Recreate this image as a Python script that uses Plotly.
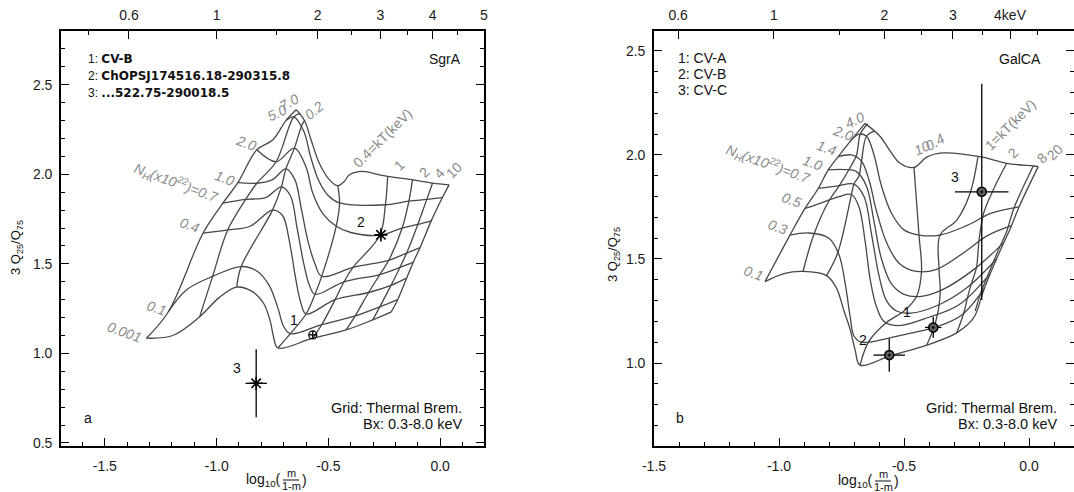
import math
import plotly.graph_objects as go

W, H = 1074, 492

# ---------------- Panel a (SgrA) ----------------
A_NH_LABELS = ["0.001", "0.1", "0.4", "0.7", "1.0", "2.0", "5.0", "7.0"]
A_NH_X = [
    [-1.314, -1.196, -1.076, -0.99, -0.91, -0.84, -0.79, -0.76, -0.745, -0.726, -0.57, -0.421, -0.302, -0.22],
    [-1.215, -1.134, -1.018, -0.89, -0.82, -0.765, -0.725, -0.70, -0.67, -0.53, -0.38, -0.27, -0.19],
    [-1.061, -0.95, -0.85, -0.75, -0.705, -0.675, -0.648, -0.625, -0.60, -0.47, -0.32, -0.22, -0.15],
    [-0.972, -0.87, -0.78, -0.71, -0.67, -0.64, -0.61, -0.585, -0.56, -0.43, -0.27, -0.18, -0.12],
    [-0.905, -0.82, -0.75, -0.69, -0.65, -0.62, -0.59, -0.56, -0.53, -0.39, -0.23, -0.15, -0.09],
    [-0.82, -0.734, -0.652, -0.60, -0.57, -0.525, -0.465, -0.40, -0.27, -0.17, -0.10, -0.04],
    [-0.69, -0.655, -0.61, -0.58, -0.545, -0.50, -0.45, -0.245, -0.14, -0.06, 0.01],
    [-0.644, -0.607, -0.577, -0.54, -0.496, -0.458, -0.429, -0.406, -0.347, -0.272, -0.235, -0.124, -0.034, 0.04],
]
A_NH_Y = [
    [1.085, 1.10, 1.204, 1.31, 1.37, 1.345, 1.28, 1.18, 1.09, 1.03, 1.085, 1.131, 1.187, 1.23],
    [1.234, 1.355, 1.43, 1.485, 1.46, 1.38, 1.25, 1.15, 1.11, 1.16, 1.21, 1.26, 1.30],
    [1.671, 1.69, 1.71, 1.80, 1.77, 1.63, 1.43, 1.29, 1.22, 1.30, 1.34, 1.38, 1.42],
    [1.839, 1.86, 1.87, 1.93, 1.88, 1.70, 1.50, 1.38, 1.33, 1.40, 1.44, 1.48, 1.51],
    [1.953, 1.95, 1.97, 2.03, 1.97, 1.80, 1.62, 1.50, 1.43, 1.48, 1.52, 1.56, 1.59],
    [2.137, 2.07, 2.146, 2.04, 1.895, 1.78, 1.71, 1.675, 1.66, 1.70, 1.72, 1.74],
    [2.30, 2.32, 2.24, 2.10, 1.97, 1.88, 1.84, 1.83, 1.85, 1.86, 1.87],
    [2.36, 2.30, 2.19, 2.06, 1.97, 1.936, 1.96, 1.997, 2.016, 1.997, 1.988, 1.969, 1.951, 1.941],
]
A_KT_LABELS = ["", "", "0.2", "0.4", "1", "2", "4", "10"]
A_KT_X = [
    [-1.314, -1.215, -1.061, -0.972, -0.905, -0.82, -0.748, -0.69, -0.644],
    [-1.076, -1.018, -0.95, -0.87, -0.82, -0.734, -0.655, -0.625],
    [-0.91, -0.89, -0.75, -0.71, -0.69, -0.652, -0.62, -0.607],
    [-0.726, -0.67, -0.60, -0.56, -0.53, -0.465, -0.45, -0.458],
    [-0.57, -0.53, -0.47, -0.43, -0.39, -0.27, -0.245, -0.235],
    [-0.421, -0.38, -0.32, -0.27, -0.23, -0.17, -0.14, -0.124],
    [-0.302, -0.27, -0.22, -0.18, -0.15, -0.10, -0.06, -0.034],
    [-0.22, -0.19, -0.15, -0.12, -0.09, -0.04, 0.01, 0.04],
]
A_KT_Y = [
    [1.085, 1.234, 1.671, 1.839, 1.953, 2.137, 2.193, 2.30, 2.36],
    [1.204, 1.43, 1.69, 1.86, 1.95, 2.07, 2.32, 2.34],
    [1.37, 1.485, 1.80, 1.93, 2.03, 2.146, 2.27, 2.30],
    [1.03, 1.11, 1.22, 1.33, 1.43, 1.71, 1.84, 1.936],
    [1.085, 1.16, 1.30, 1.40, 1.48, 1.66, 1.83, 1.988],
    [1.131, 1.21, 1.34, 1.44, 1.52, 1.70, 1.85, 1.969],
    [1.187, 1.26, 1.38, 1.48, 1.56, 1.72, 1.86, 1.951],
    [1.23, 1.30, 1.42, 1.51, 1.59, 1.74, 1.87, 1.941],
]
A_SRC = ["1", "2", "3"]
A_SRC_X = [-0.57, -0.265, -0.823]
A_SRC_Y = [1.103, 1.662, 0.833]
A_SRC_XERR = [0.0, 0.015, 0.048]
A_SRC_YERR = [0.0, 0.02, 0.19]
A_LEGEND = ["CV-B", "ChOPSJ174516.18-290315.8", "...522.75-290018.5"]

# ---------------- Panel b (GalCA) ----------------
B_NH_LABELS = ["0.1", "0.3", "0.5", "0.7", "1.0", "1.4", "2.0", "4.0"]
B_NH_X = [
    [-1.056, -0.98, -0.904, -0.81, -0.77, -0.74, -0.715, -0.695, -0.676, -0.556, -0.409, -0.289, -0.223, -0.196],
    [-0.956, -0.88, -0.80, -0.76, -0.735, -0.715, -0.70, -0.67, -0.56, -0.45, -0.38, -0.27, -0.178],
    [-0.896, -0.83, -0.76, -0.71, -0.68, -0.655, -0.635, -0.61, -0.58, -0.52, -0.40, -0.28, -0.155],
    [-0.843, -0.77, -0.70, -0.66, -0.63, -0.60, -0.57, -0.53, -0.47, -0.36, -0.25, -0.13],
    [-0.803, -0.74, -0.69, -0.65, -0.62, -0.59, -0.55, -0.50, -0.43, -0.35, -0.22, -0.10],
    [-0.763, -0.71, -0.67, -0.64, -0.61, -0.57, -0.52, -0.45, -0.37, -0.25, -0.17, -0.07],
    [-0.716, -0.68, -0.65, -0.62, -0.59, -0.55, -0.50, -0.44, -0.356, -0.25, -0.15, -0.04],
    [-0.656, -0.596, -0.556, -0.516, -0.46, -0.409, -0.344, -0.196, -0.089, 0.017, 0.037],
]
B_NH_Y = [
    [1.391, 1.43, 1.44, 1.42, 1.36, 1.25, 1.16, 1.06, 0.99, 1.034, 1.086, 1.145, 1.214, 1.295],
    [1.615, 1.625, 1.60, 1.52, 1.38, 1.22, 1.13, 1.10, 1.12, 1.15, 1.17, 1.23, 1.36],
    [1.743, 1.77, 1.80, 1.81, 1.75, 1.58, 1.40, 1.27, 1.20, 1.18, 1.22, 1.28, 1.43],
    [1.839, 1.85, 1.86, 1.80, 1.62, 1.42, 1.30, 1.25, 1.24, 1.28, 1.36, 1.50],
    [1.928, 1.93, 1.92, 1.85, 1.68, 1.50, 1.38, 1.33, 1.32, 1.35, 1.45, 1.58],
    [1.992, 2.0, 1.97, 1.88, 1.73, 1.58, 1.48, 1.44, 1.45, 1.54, 1.61, 1.66],
    [2.064, 2.10, 2.09, 2.0, 1.85, 1.72, 1.64, 1.615, 1.615, 1.66, 1.72, 1.75],
    [2.152, 2.09, 2.02, 1.96, 1.94, 1.99, 2.01, 1.992, 1.96, 1.947, 1.944],
]
B_KT_LABELS = ["", "", "", "0.4", "1", "2", "8", "20"]
B_KT_X = [
    [-1.056, -0.956, -0.896, -0.843, -0.803, -0.763, -0.716, -0.656],
    [-0.904, -0.86, -0.80, -0.76, -0.72, -0.69, -0.675, -0.645],
    [-0.81, -0.765, -0.71, -0.70, -0.68, -0.67, -0.65, -0.62],
    [-0.676, -0.64, -0.57, -0.50, -0.45, -0.43, -0.44, -0.46],
    [-0.409, -0.38, -0.37, -0.36, -0.355, -0.36, -0.356, -0.289, -0.236, -0.204],
    [-0.289, -0.26, -0.245, -0.23, -0.21, -0.20, -0.18, -0.14, -0.089],
    [-0.215, -0.195, -0.172, -0.148, -0.12, -0.09, -0.06, 0.017],
    [-0.196, -0.178, -0.155, -0.13, -0.10, -0.07, -0.04, 0.037],
]
B_KT_Y = [
    [1.391, 1.615, 1.743, 1.839, 1.928, 1.992, 2.064, 2.152],
    [1.44, 1.62, 1.78, 1.85, 1.93, 2.0, 2.10, 2.15],
    [1.42, 1.53, 1.81, 1.86, 1.90, 1.97, 2.09, 2.115],
    [0.99, 1.105, 1.195, 1.25, 1.32, 1.44, 1.615, 1.94],
    [1.086, 1.17, 1.215, 1.275, 1.35, 1.455, 1.615, 1.687, 1.815, 1.992],
    [1.145, 1.244, 1.32, 1.383, 1.46, 1.59, 1.725, 1.84, 1.96],
    [1.25, 1.33, 1.40, 1.47, 1.55, 1.63, 1.745, 1.947],
    [1.295, 1.36, 1.43, 1.50, 1.58, 1.66, 1.75, 1.944],
]
B_SRC = ["1", "2", "3"]
B_SRC_X = [-0.383, -0.559, -0.189]
B_SRC_Y = [1.171, 1.038, 1.823]
B_SRC_XERR = [0.033, 0.063, 0.107]
B_SRC_YERR = [0.05, 0.08, 0.52]
B_LEGEND = ["CV-A", "CV-B", "CV-C"]

# axis tick labels
X_TICKS = [-1.5, -1.0, -0.5, 0.0]
X_TICKTEXT = ["-1.5", "-1.0", "-0.5", "0.0"]
A_Y_TICKS = [0.5, 1.0, 1.5, 2.0, 2.5]
B_Y_TICKS = [1.0, 1.5, 2.0, 2.5]
Y_TICKTEXT = {0.5: "0.5", 1.0: "1.0", 1.5: "1.5", 2.0: "2.0", 2.5: "2.5"}
A_E_MAJOR = [0.6, 1, 2, 3, 4, 5]
A_E_TEXT = ["0.6", "1", "2", "3", "4", "5"]
B_E_MAJOR = [0.6, 1, 2, 3, 4]
B_E_TEXT = ["0.6", "1", "2", "3", "4keV"]
E_MINOR = [0.5, 1.5, 2.5, 3.5, 4.5]
E_MIN, E_MAX = 0.3, 8.0


def e2x(e):
    m = (e - E_MIN) / (E_MAX - E_MIN)
    return math.log10(m / (1 - m))


GRID = dict(color="#474747", width=1.3, shape="spline", smoothing=1.0)
LBL = "#8a8a8a"
FONT = "Liberation Sans"

fig = go.Figure()


def add_grid(xs_list, ys_list, xa, ya):
    for xs, ys in zip(xs_list, ys_list):
        fig.add_trace(go.Scatter(x=xs, y=ys, mode="lines", line=GRID,
                                 xaxis=xa, yaxis=ya, hoverinfo="skip", showlegend=False))


add_grid(A_NH_X, A_NH_Y, "x", "y")
add_grid(A_KT_X, A_KT_Y, "x", "y")
add_grid(B_NH_X, B_NH_Y, "x3", "y2")
add_grid(B_KT_X, B_KT_Y, "x3", "y2")

# dummy traces for top axes
fig.add_trace(go.Scatter(x=[None], y=[None], xaxis="x2", yaxis="y", showlegend=False, hoverinfo="skip"))
fig.add_trace(go.Scatter(x=[None], y=[None], xaxis="x4", yaxis="y2", showlegend=False, hoverinfo="skip"))

# sources panel a
fig.add_trace(go.Scatter(
    x=A_SRC_X[:1], y=A_SRC_Y[:1], mode="markers", xaxis="x", yaxis="y",
    marker=dict(symbol="circle-cross-open", size=8, color="black", line=dict(width=1.3)),
    showlegend=False, hoverinfo="skip"))
fig.add_trace(go.Scatter(
    x=A_SRC_X[1:], y=A_SRC_Y[1:], mode="markers", xaxis="x", yaxis="y",
    error_x=dict(type="data", array=A_SRC_XERR[1:], width=0, color="black", thickness=1.3),
    error_y=dict(type="data", array=A_SRC_YERR[1:], width=0, color="black", thickness=1.3),
    marker=dict(symbol="asterisk-open", size=11, color="black", line=dict(width=1.6)),
    showlegend=False, hoverinfo="skip"))
# sources panel b
fig.add_trace(go.Scatter(
    x=B_SRC_X, y=B_SRC_Y, mode="markers", xaxis="x3", yaxis="y2",
    error_x=dict(type="data", array=B_SRC_XERR, width=0, color="black", thickness=1.3),
    error_y=dict(type="data", array=B_SRC_YERR, width=0, color="black", thickness=1.3),
    marker=dict(symbol="circle-dot", size=9, color="#606060", line=dict(width=1.6, color="black")),
    showlegend=False, hoverinfo="skip"))

ann = []


def pp(px, py):
    return px / W, 1 - py / H


def txt(text, px, py, size=13, xanchor="center", yanchor="middle", color="#111", angle=0, family=FONT):
    x, y = pp(px, py)
    ann.append(dict(text=text, x=x, y=y, xref="paper", yref="paper", showarrow=False,
                    xanchor=xanchor, yanchor=yanchor, textangle=angle,
                    font=dict(family=family, size=size, color=color)))


def dtxt(text, x, y, xr, yr, angle=0, size=13, color=LBL):
    ann.append(dict(text=text, x=x, y=y, xref=xr, yref=yr, showarrow=False,
                    xanchor="center", yanchor="middle", textangle=angle,
                    font=dict(family=FONT, size=size, color=color)))


# panel a grid labels
A_LAB = [("<i>0.001</i>", -1.411, 1.120, 20), ("<i>0.1</i>", -1.268, 1.254, 20),
         ("<i>0.4</i>", -1.121, 1.718, 20), ("<i>N<sub>H</sub>(x10<sup>22</sup>)=0.7</i>", -1.179, 1.953, 20),
         ("<i>1.0</i>", -0.964, 1.98, 20), ("<i>2.0</i>", -0.866, 2.176, 20),
         ("<i>5.0</i>", -0.732, 2.345, -25), ("<i>7.0</i>", -0.674, 2.405, -30),
         ("<i>0.2</i>", -0.5625, 2.36, -40), ("0.4=kT(keV)", -0.259, 2.204, -45),
         ("1", -0.183, 2.053, -45), ("2", -0.071, 2.014, -45), ("4", -0.004, 2.008, -45),
         ("10", 0.0625, 2.025, -45)]
for t, x, y, a in A_LAB:
    dtxt(t, x, y, "x", "y", angle=a, size=14)

B_LAB = [("<i>N<sub>H</sub>(x10<sup>22</sup>)=0.7</i>", -1.044, 1.957, 20), ("<i>0.1</i>", -1.104, 1.433, 20),
         ("<i>0.3</i>", -1.004, 1.654, 20), ("<i>0.5</i>", -0.948, 1.784, 20),
         ("<i>1.0</i>", -0.864, 1.962, 20), ("<i>1.4</i>", -0.808, 2.034, 20),
         ("<i>2.0</i>", -0.744, 2.106, 20), ("<i>4.0</i>", -0.696, 2.168, -25),
         ("<i>10</i>", -0.428, 2.034, -25), ("<i>0.4</i>", -0.376, 2.063, -30),
         ("1=kT(keV)", -0.076, 2.144, -45), ("2", -0.064, 2.01, -45),
         ("8", 0.052, 1.986, -45), ("20", 0.104, 2.014, -45)]
for t, x, y, a in B_LAB:
    dtxt(t, x, y, "x3", "y2", angle=a, size=14)

# source labels
for t, x, y in zip(A_SRC, [-0.652, -0.353, -0.911], [1.187, 1.735, 0.919]):
    dtxt(t, x, y, "x", "y", size=14, color="#111")
for t, x, y in zip(B_SRC, [-0.488, -0.664, -0.296], [1.245, 1.111, 1.894]):
    dtxt(t, x, y, "x3", "y2", size=14, color="#111")

# legends / captions
for i, name in enumerate(A_LEGEND):
    txt(f"{i+1}: <span style='font-family:DejaVu Sans'><b>{name}</b></span>", 86, 59 + 17 * i,
        size=12, xanchor="left")
for i, name in enumerate(B_LEGEND):
    txt(f"{i+1}: {name}", 676, 58 + 16 * i, size=14, xanchor="left")
txt("SgrA", 463, 59, size=14, xanchor="right")
txt("GalCA", 1043, 59, size=14, xanchor="right")
txt("Grid: Thermal Brem.", 464, 408, size=14.5, xanchor="right")
txt("Bx: 0.3-8.0 keV", 464, 424, size=14.5, xanchor="right")
txt("Grid: Thermal Brem.", 1059, 408, size=14.5, xanchor="right")
txt("Bx: 0.3-8.0 keV", 1059, 424, size=14.5, xanchor="right")
txt("a", 88, 418, size=14)
txt("b", 680, 418, size=14)

# axis titles
txt("3 Q<sub>25</sub>/Q<sub>75</sub>", 17, 248, size=13, angle=-90)
txt("3 Q<sub>25</sub>/Q<sub>75</sub>", 613, 255, size=13, angle=-90)
shapes = []
for cx, cy in [(291, 480), (883, 481)]:
    txt("log<sub>10</sub>(", cx - 8, cy, size=14, xanchor="right")
    txt("m", cx, cy - 7, size=11)
    txt("1-m", cx, cy + 6, size=11)
    txt(")", cx + 9, cy, size=14, xanchor="left")
    x0, y0 = pp(cx - 8, cy)
    x1, _ = pp(cx + 8, cy)
    shapes.append(dict(type="line", xref="paper", yref="paper", x0=x0, x1=x1, y0=y0, y1=y0,
                       line=dict(color="#111", width=1)))

TICKFONT = dict(family=FONT, size=14, color="#1a1a1a")
YDOM = [(H - 446) / H, (H - 31) / H]


def xbottom(domain, rng, anchor):
    return dict(domain=domain, range=rng, anchor=anchor, side="bottom", automargin=False,
                showline=True, linecolor="black", linewidth=1.6, mirror=False,
                tickmode="array", tickvals=X_TICKS, ticktext=X_TICKTEXT,
                ticks="inside", ticklen=8, tickwidth=1.3, tickcolor="black",
                minor=dict(ticks="inside", ticklen=4, tickwidth=1.1, dtick=0.1, tick0=0, tickcolor="black"),
                showgrid=False, zeroline=False, tickfont=TICKFONT, ticklabelstandoff=6)


def xtop(rng, overl, anchor, vals, text):
    return dict(range=rng, overlaying=overl, anchor=anchor, side="top", automargin=False,
                showline=True, linecolor="black", linewidth=1.6,
                tickmode="array", tickvals=[e2x(e) for e in vals], ticktext=text,
                ticks="inside", ticklen=8, tickwidth=1.3, tickcolor="black",
                minor=dict(ticks="inside", ticklen=4, tickwidth=1.1, tickcolor="black",
                           tickmode="array", tickvals=[e2x(e) for e in E_MINOR]),
                showgrid=False, zeroline=False, tickfont=TICKFONT, ticklabelstandoff=4)


def yax(rng, anchor, vals):
    return dict(domain=YDOM, range=rng, anchor=anchor, automargin=False,
                showline=True, linecolor="black", linewidth=1.6, mirror="ticks",
                tickmode="array", tickvals=vals, ticktext=[Y_TICKTEXT[v] for v in vals],
                ticks="inside", ticklen=8, tickwidth=1.3, tickcolor="black",
                minor=dict(ticks="inside", ticklen=4, tickwidth=1.1, dtick=0.1, tick0=0, tickcolor="black"),
                showgrid=False, zeroline=False, tickfont=TICKFONT, ticklabelstandoff=4)


fig.update_layout(
    width=W, height=H, margin=dict(l=0, r=0, t=0, b=0, autoexpand=False),
    paper_bgcolor="white", plot_bgcolor="white", showlegend=False,
    xaxis=xbottom([61 / W, 484 / W], [-1.696, 0.196], "y"),
    xaxis2=xtop([-1.696, 0.196], "x", "y", A_E_MAJOR, A_E_TEXT),
    yaxis=yax([0.483, 2.80], "x", A_Y_TICKS),
    xaxis3=xbottom([654 / W, 1.0], [-1.5, 0.18], "y2"),
    xaxis4=xtop([-1.491, 0.228], "x3", "y2", B_E_MAJOR, B_E_TEXT),
    yaxis2=yax([0.601, 2.596], "x3", B_Y_TICKS),
    annotations=ann, shapes=shapes,
)

fig.write_html("out.html", config={"displayModeBar": False},
               post_script="document.body.style.margin='0';")
